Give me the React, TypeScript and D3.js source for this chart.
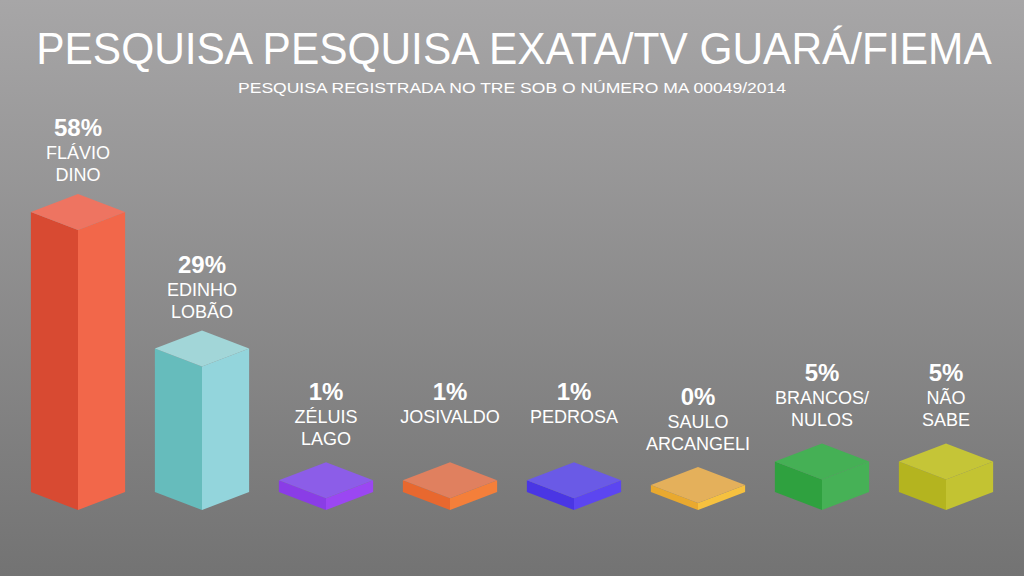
import React from "react";
import * as d3 from "d3";

const categories: string[][] = [
  ["FLÁVIO", "DINO"],
  ["EDINHO", "LOBÃO"],
  ["ZÉLUIS", "LAGO"],
  ["JOSIVALDO"],
  ["PEDROSA"],
  ["SAULO", "ARCANGELI"],
  ["BRANCOS/", "NULOS"],
  ["NÃO", "SABE"],
];
const values: number[] = [58, 29, 1, 1, 1, 0, 5, 5];
const leftColors = ["#d84a32", "#66bcbc", "#8a3de6", "#e8682f", "#4a36e4", "#e9a92f", "#2fa13f", "#b4b41f"];
const rightColors = ["#f2674a", "#93d5dc", "#9b47f2", "#f47f3a", "#5c46f0", "#f6c13f", "#46b156", "#c3c332"];
const topColors = ["#ee7461", "#a2d6d8", "#8c5de8", "#e0805f", "#6a5ae6", "#e4b05b", "#45b055", "#c5c537"];

const W = 1024;
const H = 576;

export default function App() {
  const x = d3
    .scaleBand<number>()
    .domain(d3.range(values.length))
    .range([16, 1008])
    .paddingInner(0.24)
    .paddingOuter(0.12);
  const h = d3.scaleLinear().domain([0, 58]).range([7, 280]);
  const y0 = 510;
  const dy = 18;

  return (
    <svg
      width={W}
      height={H}
      style={{ position: "absolute", left: 0, top: 0, display: "block" }}
      fontFamily="'Liberation Sans', Arial, sans-serif"
    >
      <defs>
        <linearGradient id="bg" x1="0" y1="0" x2="0" y2="1">
          <stop offset="0" stopColor="#a7a6a7" />
          <stop offset="1" stopColor="#737373" />
        </linearGradient>
      </defs>
      <rect x={0} y={0} width={W} height={H} fill="url(#bg)" />
      <text
        transform="translate(514,64) scale(0.943,1)"
        textAnchor="middle"
        fill="#ffffff"
        fontSize={45}
      >
        PESQUISA PESQUISA EXATA/TV GUARÁ/FIEMA
      </text>
      <text
        x={512}
        y={93}
        textAnchor="middle"
        fill="#ffffff"
        fontSize={14.5}
        textLength={548}
        lengthAdjust="spacingAndGlyphs"
      >
        PESQUISA REGISTRADA NO TRE SOB O NÚMERO MA 00049/2014
      </text>
      {values.map((v, i) => {
        const bw = x.bandwidth();
        const cx = (x(i) as number) + bw / 2;
        const w = bw / 2;
        const hh = h(v);
        const top = y0 - hh;
        const left = `M${cx - w},${top - dy} L${cx},${top} L${cx},${y0} L${cx - w},${y0 - dy} Z`;
        const right = `M${cx},${top} L${cx + w},${top - dy} L${cx + w},${y0 - dy} L${cx},${y0} Z`;
        const topF = `M${cx - w},${top - dy} L${cx},${top - 2 * dy} L${cx + w},${top - dy} L${cx},${top} Z`;
        const peak = top - 2 * dy;
        const pctY = peak - 58 - (v < 10 ? 4 : 0);
        return (
          <g key={i}>
            <path d={left} fill={leftColors[i]} />
            <path d={right} fill={rightColors[i]} />
            <path d={topF} fill={topColors[i]} />
            <text x={cx} y={pctY} textAnchor="middle" fill="#ffffff" fontSize={24} fontWeight="bold">
              {v}%
            </text>
            {categories[i].map((line, j) => (
              <text
                key={j}
                x={cx}
                y={pctY + 23 + j * 22}
                textAnchor="middle"
                fill="#ffffff"
                fontSize={18}
              >
                {line}
              </text>
            ))}
          </g>
        );
      })}
    </svg>
  );
}
